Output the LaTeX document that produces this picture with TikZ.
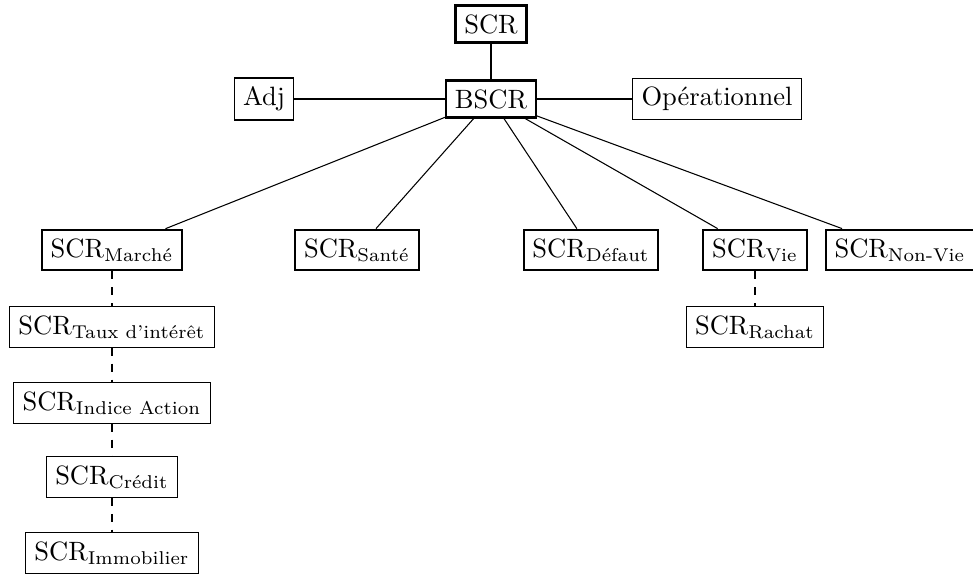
\documentclass[tikz,border=0pt]{standalone}
\usepackage{amsmath}
\begin{document}
\begin{tikzpicture}[x=0.3774pt,y=-0.3774pt,
  mainbox/.style={draw,thick,inner sep=3.33pt},
  subbox/.style={draw,thin,inner sep=3.33pt},
  link/.style={draw,thin},
  sublink/.style={draw,thin,dashed}]
\useasboundingbox (0,0) rectangle (973,575);
\node[mainbox] (scr) at (491,24) {SCR};
\node[mainbox] (bscr) at (491,99) {BSCR};
\node[subbox] (adj) at (264,99) {Adj};
\node[subbox] (op) at (717,99) {Opérationnel};
\node[mainbox] (marche) at (112,250) {SCR$_{\text{Marché}}$};
\node[mainbox] (sante) at (357,250) {SCR$_{\text{Santé}}$};
\node[mainbox] (defaut) at (591,250) {SCR$_{\text{Défaut}}$};
\node[mainbox] (vie) at (755,250) {SCR$_{\text{Vie}}$};
\node[mainbox] (nonvie) at (900,250) {SCR$_{\text{Non-Vie}}$};
\node[subbox] (taux) at (112,327) {SCR$_{\text{Taux d'intérêt}}$};
\node[subbox] (indice) at (112,403) {SCR$_{\text{Indice Action}}$};
\node[subbox] (credit) at (112,477) {SCR$_{\text{Crédit}}$};
\node[subbox] (immo) at (112,553) {SCR$_{\text{Immobilier}}$};
\node[subbox] (rachat) at (755,327) {SCR$_{\text{Rachat}}$};
\path[link] (scr) -- (bscr);
\path[link] (bscr) -- (adj);
\path[link] (bscr) -- (op);
\path[link] (bscr) -- (marche);
\path[link] (bscr) -- (sante);
\path[link] (bscr) -- (defaut);
\path[link] (bscr) -- (vie);
\path[link] (bscr) -- (nonvie);
\path[sublink] (marche) -- (taux);
\path[sublink] (taux) -- (indice);
\path[sublink] (indice) -- (credit);
\path[sublink] (credit) -- (immo);
\path[sublink] (vie) -- (rachat);
\end{tikzpicture}
\end{document}
